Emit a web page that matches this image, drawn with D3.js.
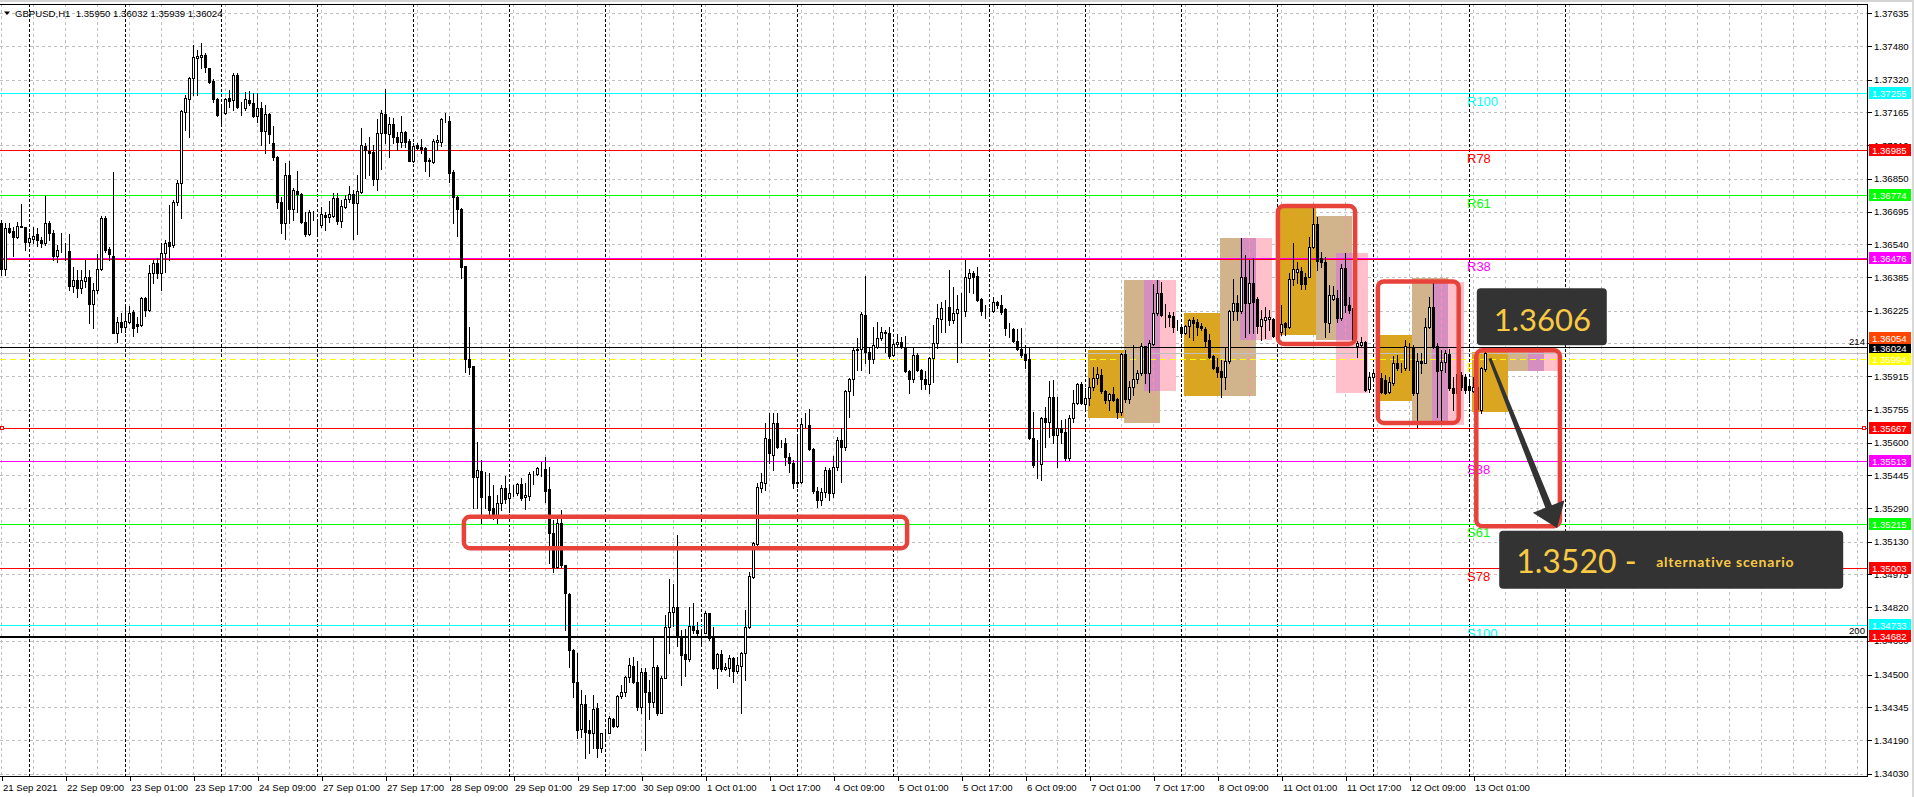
<!DOCTYPE html>
<html><head><meta charset="utf-8">
<script src="https://cdn.jsdelivr.net/npm/d3@7"></script>
<style>
html,body{margin:0;padding:0;background:#fff;overflow:hidden}
svg{display:block}
</style></head><body>
<script>
// ---------------- DATA ----------------
const headerText = "GBPUSD,H1  1.35950 1.36032 1.35939 1.36024";

const open = [
1.36639,1.36421,1.36616,1.36603,1.36573,1.36627,1.36620,1.36549,1.36565,1.36589,
1.36560,1.36548,1.36643,1.36595,1.36486,1.36508,1.36508,1.36508,1.36344,1.36371,
1.36331,1.36368,1.36387,1.36257,1.36323,1.36421,1.36663,1.36518,1.36486,1.36121,
1.36170,1.36150,1.36173,1.36218,1.36162,1.36159,1.36283,1.36229,1.36402,1.36450,
1.36406,1.36500,1.36551,1.36537,1.36739,1.36829,1.37169,1.37227,1.37327,1.37421,
1.37429,1.37437,1.37377,1.37314,1.37229,1.37161,1.37161,1.37232,1.37224,1.37342,
1.37189,1.37184,1.37224,1.37211,1.37148,1.37184,1.37077,1.37158,1.37022,1.36955,
1.36742,1.36643,1.36868,1.36707,1.36793,1.36778,1.36647,1.36589,1.36692,1.36629,
1.36629,1.36679,1.36671,1.36676,1.36758,1.36652,1.36718,1.36753,1.36777,1.36734,
1.36790,1.37008,1.36984,1.36979,1.36850,1.37066,1.37158,1.37063,1.37110,1.37047,
1.37023,1.37071,1.37030,1.36936,1.37009,1.37000,1.36995,1.36940,1.36932,1.37027,
1.37027,1.37126,1.37126,1.36884,1.36766,1.36706,1.36437,1.35995,1.35963,1.35439,
1.35467,1.35344,1.35347,1.35288,1.35257,1.35312,1.35383,1.35336,1.35360,1.35360,
1.35402,1.35340,1.35347,1.35451,1.35451,1.35475,1.35475,1.35380,1.35170,1.35009,
1.35217,1.35020,1.34883,1.34617,1.34467,1.34241,1.34359,1.34235,1.34222,1.34341,
1.34151,1.34225,1.34225,1.34290,1.34254,1.34399,1.34416,1.34487,1.34541,1.34467,
1.34345,1.34514,1.34415,1.34372,1.34538,1.34320,1.34483,1.34724,1.34796,1.34819,
1.34680,1.34598,1.34573,1.34728,1.34709,1.34699,1.34699,1.34791,1.34675,1.34530,
1.34596,1.34525,1.34530,1.34577,1.34519,1.34541,1.34601,1.34724,1.34962,1.35120,
1.35383,1.35410,1.35616,1.35540,1.35691,1.35597,1.35597,1.35530,1.35505,1.35407,
1.35415,1.35687,1.35684,1.35568,1.35370,1.35328,1.35367,1.35470,1.35360,1.35483,
1.35612,1.35581,1.35842,1.35900,1.36039,1.36042,1.36205,1.36031,1.35995,1.36055,
1.36094,1.36126,1.36118,1.36014,1.36065,1.36075,1.36052,1.35941,1.35903,1.36014,
1.35943,1.35902,1.35878,1.35999,1.36071,1.36184,1.36236,1.36241,1.36181,1.36213,
1.36225,1.36222,1.36382,1.36402,1.36390,1.36279,1.36225,1.36225,1.36222,1.36267,
1.36251,1.36232,1.36145,1.36137,1.36083,1.36042,1.36020,1.35995,1.35620,1.35497,
1.35499,1.35715,1.35699,1.35815,1.35636,1.35668,1.35652,1.35525,1.35715,1.35786,
1.35878,1.35783,1.35810,1.35865,1.35905,1.35920,1.35846,1.35802,1.35829,1.35808,
1.35747,1.36020,1.35807,1.35862,1.35900,1.35928,1.36058,1.35932,1.36067,1.36213,
1.36308,1.36205,1.36205,1.36200,1.36150,1.36150,1.36118,1.36153,1.36181,1.36172,
1.36153,1.36140,1.36086,1.36011,1.35957,1.35939,1.35913,1.35987,1.36224,1.36260,
1.36224,1.36387,1.36260,1.36358,1.36279,1.36153,1.36181,1.36184,1.36184,1.36118,
1.36126,1.36165,1.36146,1.36374,1.36410,1.36413,1.36387,1.36387,1.36526,1.36636,
1.36473,1.36458,1.36165,1.36279,1.36284,1.36189,1.36426,1.36252,1.36236,1.36058,
1.36063,1.36078,1.35853,1.35909,1.35920,1.35905,1.35897,1.35841,1.35884,1.35979,
1.35952,1.35952,1.36060,1.36055,1.35834,1.35988,1.35979,1.36146,1.36241,1.36058,
1.35944,1.35984,1.36020,1.35857,1.35834,1.35920,1.35913,1.35868,1.35846,1.35865,
1.35755,1.35950];

const high = [
1.36655,1.36639,1.36643,1.36624,1.36647,1.36731,1.36624,1.36592,1.36624,1.36616,
1.36576,1.36771,1.36652,1.36608,1.36537,1.36592,1.36545,1.36589,1.36434,1.36418,
1.36418,1.36466,1.36418,1.36355,1.36494,1.36674,1.36674,1.36529,1.36884,1.36197,
1.36213,1.36244,1.36248,1.36229,1.36194,1.36292,1.36292,1.36442,1.36466,1.36473,
1.36545,1.36560,1.36726,1.36750,1.36845,1.37177,1.37248,1.37335,1.37485,1.37461,
1.37493,1.37445,1.37377,1.37322,1.37232,1.37200,1.37232,1.37271,1.37354,1.37350,
1.37216,1.37263,1.37267,1.37256,1.37259,1.37216,1.37200,1.37161,1.37101,1.36959,
1.36766,1.36924,1.36935,1.36805,1.36889,1.36782,1.36695,1.36703,1.36698,1.36655,
1.36718,1.36695,1.36747,1.36785,1.36782,1.36750,1.36774,1.36816,1.36797,1.36868,
1.37090,1.37022,1.37050,1.37011,1.37132,1.37177,1.37275,1.37145,1.37137,1.37074,
1.37148,1.37079,1.37038,1.37022,1.37019,1.37038,1.37003,1.36947,1.37038,1.37058,
1.37137,1.37161,1.37148,1.36892,1.36769,1.36710,1.36437,1.36150,1.35963,1.35604,
1.35518,1.35462,1.35454,1.35399,1.35352,1.35399,1.35442,1.35399,1.35399,1.35407,
1.35431,1.35407,1.35462,1.35465,1.35486,1.35510,1.35533,1.35486,1.35233,1.35257,
1.35281,1.35020,1.34889,1.34620,1.34601,1.34427,1.34404,1.34285,1.34404,1.34364,
1.34222,1.34241,1.34304,1.34296,1.34404,1.34451,1.34491,1.34577,1.34582,1.34566,
1.34530,1.34530,1.34475,1.34680,1.34546,1.34491,1.34783,1.34952,1.34930,1.35162,
1.34712,1.34715,1.34819,1.34838,1.34747,1.34715,1.34799,1.34794,1.34724,1.34601,
1.34617,1.34554,1.34593,1.34582,1.34585,1.34609,1.34807,1.34988,1.35130,1.35410,
1.35454,1.35691,1.35739,1.35739,1.35739,1.35612,1.35620,1.35549,1.35518,1.35628,
1.35715,1.35742,1.35758,1.35573,1.35391,1.35383,1.35486,1.35478,1.35537,1.35628,
1.35668,1.35849,1.35905,1.36055,1.36094,1.36221,1.36390,1.36055,1.36150,1.36173,
1.36150,1.36134,1.36146,1.36078,1.36115,1.36102,1.36105,1.35944,1.36055,1.36023,
1.35947,1.35941,1.36004,1.36157,1.36257,1.36268,1.36276,1.36418,1.36339,1.36300,
1.36308,1.36466,1.36421,1.36413,1.36434,1.36284,1.36251,1.36236,1.36292,1.36271,
1.36300,1.36236,1.36165,1.36142,1.36137,1.36142,1.36063,1.36055,1.35747,1.35612,
1.35723,1.35770,1.35894,1.35897,1.35818,1.35707,1.35710,1.35731,1.35849,1.35884,
1.35889,1.35857,1.35905,1.35960,1.35960,1.35947,1.35849,1.35834,1.35865,1.35810,
1.36026,1.36039,1.35894,1.36063,1.35944,1.36074,1.36058,1.36086,1.36352,1.36371,
1.36363,1.36257,1.36221,1.36221,1.36181,1.36153,1.36157,1.36184,1.36194,1.36184,
1.36169,1.36150,1.36115,1.36015,1.35999,1.35992,1.36047,1.36229,1.36374,1.36300,
1.36568,1.36489,1.36466,1.36473,1.36292,1.36229,1.36244,1.36229,1.36189,1.36165,
1.36252,1.36170,1.36402,1.36548,1.36458,1.36434,1.36402,1.36576,1.36710,1.36671,
1.36505,1.36481,1.36347,1.36342,1.36323,1.36447,1.36497,1.36292,1.36241,1.36083,
1.36102,1.36083,1.35936,1.35944,1.35944,1.35928,1.35920,1.35913,1.36011,1.36015,
1.35976,1.36086,1.36071,1.36063,1.36023,1.36026,1.36189,1.36289,1.36358,1.36071,
1.36039,1.36039,1.36042,1.35913,1.35960,1.35936,1.35925,1.35897,1.35913,1.35881,
1.35957,1.36032];

const low = [
1.36394,1.36394,1.36592,1.36486,1.36568,1.36620,1.36513,1.36532,1.36545,1.36532,
1.36526,1.36537,1.36560,1.36466,1.36458,1.36505,1.36466,1.36323,1.36315,1.36292,
1.36308,1.36339,1.36165,1.36142,1.36308,1.36418,1.36505,1.36466,1.36118,1.36078,
1.36126,1.36126,1.36165,1.36105,1.36126,1.36153,1.36200,1.36225,1.36358,1.36379,
1.36323,1.36410,1.36466,1.36529,1.36726,1.36666,1.37082,1.37047,1.37248,1.37248,
1.37374,1.37358,1.37303,1.37216,1.37148,1.37117,1.37158,1.37192,1.37177,1.37184,
1.37153,1.37177,1.37200,1.37145,1.37121,1.37011,1.36971,1.37019,1.36940,1.36710,
1.36592,1.36564,1.36639,1.36655,1.36695,1.36643,1.36579,1.36584,1.36655,1.36584,
1.36624,1.36608,1.36647,1.36671,1.36636,1.36624,1.36710,1.36742,1.36564,1.36589,
1.36782,1.36856,1.36868,1.36821,1.36797,1.36897,1.37019,1.36952,1.37022,1.36987,
1.37003,1.37003,1.36936,1.36932,1.36992,1.36971,1.36889,1.36864,1.36927,1.36987,
1.37006,1.37121,1.36837,1.36639,1.36581,1.36379,1.35936,1.35925,1.35292,1.35292,
1.35217,1.35288,1.35249,1.35236,1.35217,1.35281,1.35312,1.35273,1.35347,1.35352,
1.35328,1.35284,1.35328,1.35404,1.35447,1.35442,1.35320,1.35031,1.34984,1.35004,
1.35012,1.34709,1.34535,1.34393,1.34198,1.34206,1.34103,1.34130,1.34151,1.34108,
1.34135,1.34198,1.34222,1.34250,1.34250,1.34388,1.34396,1.34467,1.34459,1.34333,
1.34320,1.34140,1.34288,1.34348,1.34309,1.34317,1.34483,1.34604,1.34728,1.34636,
1.34451,1.34491,1.34566,1.34696,1.34683,1.34636,1.34696,1.34664,1.34525,1.34435,
1.34519,1.34522,1.34491,1.34467,1.34506,1.34320,1.34475,1.34720,1.34957,1.35116,
1.35367,1.35375,1.35502,1.35470,1.35573,1.35581,1.35494,1.35462,1.35383,1.35391,
1.35410,1.35676,1.35565,1.35360,1.35296,1.35304,1.35344,1.35328,1.35344,1.35470,
1.35415,1.35565,1.35723,1.35826,1.35944,1.35944,1.35976,1.35932,1.35976,1.36047,
1.36086,1.36031,1.35999,1.36011,1.36058,1.36047,1.35935,1.35834,1.35889,1.35938,
1.35853,1.35853,1.35837,1.35889,1.36047,1.36126,1.36126,1.36157,1.36165,1.35984,
1.36078,1.36200,1.36315,1.36308,1.36273,1.36205,1.36189,1.36213,1.36219,1.36236,
1.36210,1.36110,1.36099,1.36078,1.36039,1.36007,1.35955,1.35616,1.35486,1.35431,
1.35423,1.35581,1.35628,1.35597,1.35486,1.35597,1.35518,1.35518,1.35699,1.35783,
1.35783,1.35762,1.35778,1.35849,1.35878,1.35834,1.35789,1.35755,1.35799,1.35715,
1.35731,1.35794,1.35789,1.35826,1.35881,1.35920,1.35881,1.35841,1.36063,1.36205,
1.36200,1.36150,1.36153,1.36126,1.36134,1.36102,1.36115,1.36102,1.36086,1.36110,
1.36134,1.36055,1.35999,1.35947,1.35913,1.35818,1.35853,1.35976,1.36181,1.36181,
1.36216,1.36102,1.36121,1.36118,1.36118,1.36086,1.36094,1.36134,1.36102,1.36102,
1.36110,1.36110,1.36142,1.36347,1.36358,1.36327,1.36327,1.36383,1.36521,1.36418,
1.36431,1.36102,1.36126,1.36276,1.36173,1.36181,1.36221,1.36213,1.36083,1.36004,
1.36055,1.35846,1.35841,1.35905,1.35897,1.35834,1.35830,1.35834,1.35873,1.35944,
1.35936,1.35944,1.35944,1.35826,1.35672,1.35928,1.35976,1.36142,1.36047,1.35723,
1.35699,1.35936,1.35849,1.35755,1.35826,1.35849,1.35834,1.35794,1.35841,1.35747,
1.35742,1.35939];

const close = [
1.36421,1.36616,1.36600,1.36573,1.36627,1.36620,1.36551,1.36568,1.36581,1.36560,
1.36548,1.36639,1.36592,1.36486,1.36513,1.36508,1.36508,1.36344,1.36371,1.36331,
1.36371,1.36387,1.36255,1.36323,1.36421,1.36663,1.36513,1.36494,1.36121,1.36170,
1.36150,1.36176,1.36213,1.36145,1.36153,1.36284,1.36229,1.36402,1.36450,1.36402,
1.36500,1.36545,1.36532,1.36742,1.36832,1.37172,1.37232,1.37327,1.37426,1.37433,
1.37437,1.37382,1.37308,1.37229,1.37153,1.37161,1.37229,1.37221,1.37342,1.37189,
1.37189,1.37227,1.37208,1.37148,1.37184,1.37079,1.37158,1.37063,1.36952,1.36742,
1.36643,1.36868,1.36707,1.36797,1.36778,1.36647,1.36589,1.36695,1.36692,1.36629,
1.36684,1.36668,1.36684,1.36758,1.36652,1.36722,1.36753,1.36777,1.36737,1.36793,
1.37011,1.36987,1.36974,1.36850,1.37069,1.37161,1.37066,1.37110,1.37047,1.37023,
1.37071,1.37023,1.36936,1.37006,1.36995,1.36992,1.36936,1.36933,1.37030,1.37034,
1.37132,1.37126,1.36880,1.36763,1.36706,1.36434,1.35995,1.35960,1.35439,1.35470,
1.35344,1.35344,1.35281,1.35257,1.35312,1.35383,1.35331,1.35360,1.35360,1.35402,
1.35336,1.35352,1.35450,1.35451,1.35478,1.35475,1.35372,1.35170,1.35009,1.35217,
1.35020,1.34886,1.34617,1.34467,1.34235,1.34359,1.34230,1.34222,1.34336,1.34151,
1.34222,1.34225,1.34293,1.34254,1.34399,1.34416,1.34487,1.34543,1.34467,1.34348,
1.34514,1.34415,1.34372,1.34538,1.34320,1.34483,1.34724,1.34796,1.34819,1.34680,
1.34593,1.34573,1.34728,1.34709,1.34696,1.34699,1.34791,1.34672,1.34530,1.34596,
1.34525,1.34535,1.34577,1.34519,1.34543,1.34601,1.34724,1.34965,1.35123,1.35388,
1.35412,1.35620,1.35549,1.35691,1.35581,1.35597,1.35533,1.35505,1.35407,1.35415,
1.35687,1.35687,1.35568,1.35370,1.35328,1.35367,1.35470,1.35360,1.35486,1.35612,
1.35581,1.35843,1.35900,1.36039,1.36045,1.36210,1.36031,1.35995,1.36063,1.36094,
1.36126,1.36118,1.36011,1.36067,1.36075,1.36052,1.35938,1.35903,1.36014,1.35943,
1.35902,1.35878,1.35999,1.36071,1.36189,1.36236,1.36236,1.36181,1.36213,1.36233,
1.36225,1.36383,1.36402,1.36383,1.36276,1.36225,1.36225,1.36225,1.36267,1.36251,
1.36221,1.36142,1.36145,1.36083,1.36042,1.36015,1.35992,1.35620,1.35494,1.35497,
1.35715,1.35699,1.35815,1.35636,1.35668,1.35652,1.35525,1.35715,1.35786,1.35878,
1.35786,1.35810,1.35865,1.35905,1.35924,1.35846,1.35802,1.35829,1.35802,1.35747,
1.36020,1.35807,1.35862,1.35900,1.35928,1.36058,1.35932,1.36074,1.36213,1.36308,
1.36205,1.36205,1.36194,1.36150,1.36150,1.36118,1.36153,1.36180,1.36169,1.36150,
1.36142,1.36083,1.36007,1.35952,1.35936,1.35913,1.35987,1.36224,1.36260,1.36224,
1.36387,1.36260,1.36358,1.36268,1.36153,1.36184,1.36197,1.36194,1.36105,1.36118,
1.36162,1.36146,1.36374,1.36421,1.36421,1.36352,1.36352,1.36526,1.36636,1.36462,
1.36458,1.36173,1.36300,1.36300,1.36189,1.36426,1.36252,1.36229,1.36086,1.36074,
1.36078,1.35849,1.35909,1.35932,1.35920,1.35841,1.35837,1.35889,1.35979,1.35952,
1.35952,1.36058,1.36060,1.35834,1.35988,1.35976,1.36146,1.36241,1.36058,1.35941,
1.35984,1.36026,1.35857,1.35834,1.35925,1.35865,1.35849,1.35849,1.35865,1.35758,
1.35952,1.36024];

// time axis (bar index of each label, 1 bar = 1 hour, weekends skipped)
const timeTickBars = [0,16,32,48,64,80,96,112,128,144,160,176,192,208,224,240,256,272,288,304,320,336,352,368];
const timeTickLabels = ["21 Sep 2021","22 Sep 09:00","23 Sep 01:00","23 Sep 17:00","24 Sep 09:00","27 Sep 01:00","27 Sep 17:00","28 Sep 09:00","29 Sep 01:00","29 Sep 17:00","30 Sep 09:00","1 Oct 01:00","1 Oct 17:00","4 Oct 09:00","5 Oct 01:00","5 Oct 17:00","6 Oct 09:00","7 Oct 01:00","7 Oct 17:00","8 Oct 09:00","11 Oct 01:00","11 Oct 17:00","12 Oct 09:00","13 Oct 01:00"];
const dayStartBars = [7,31,55,79,103,127,151,175,199,223,247,271,295,319,343,367,391];
const priceTicks = ["1.37635","1.37480","1.37320","1.37165","1.37010","1.36850","1.36695","1.36540","1.36385","1.36225","1.36070","1.35915","1.35755","1.35600","1.35445","1.35290","1.35130","1.34975","1.34820","1.34660","1.34500","1.34345","1.34190","1.34030"];

// pivot levels: [price, name, colour]
const pivotPrices = [1.37255,1.36985,1.36774,1.36476,1.35513,1.35215,1.35003,1.34733];
const pivotNames  = ["R100","R78","R61","R38","S38","S61","S78","S100"];
const pivotColors = ["#00ffff","#ff0000","#00ff00","#ff00ff","#ff00ff","#00ff00","#ff0000","#00ffff"];

// other horizontal lines
const extraLines = [
  {price:1.36469, color:"#ff0000"},
  {price:1.35667, color:"#ff0000"},
  {price:1.36024, color:"#c0c0c0"},
  {price:1.36054, color:"#000000"},
  {price:1.34682, color:"#000000", wide:true},
  {price:1.35994, color:"#ffff00", dash:true}
];
const priceTags = [
  {price:1.37255, bg:"#00ffff"},{price:1.36985, bg:"#ff0000"},{price:1.36774, bg:"#00ff00"},
  {price:1.36476, bg:"#ff00ff"},{price:1.36024, bg:"#000000"},{price:1.36054, bg:"#ff4500"},
  {price:1.35994, bg:"#ffff00"},{price:1.35667, bg:"#ff0000"},{price:1.35513, bg:"#ff00ff"},
  {price:1.35215, bg:"#00ff00"},{price:1.35003, bg:"#ff0000"},{price:1.34733, bg:"#00ffff"},
  {price:1.34682, bg:"#ff0000"}
];

// session boxes: [startBar, endBar, top, bottom]
const asiaBoxes   = [[272,281,1.36039,1.35718],[296,305,1.36213,1.35821],[320,329,1.36715,1.36110],[344,353,1.36110,1.35798],[368,377,1.36031,1.35746]];
const europeBoxes = [[281,290,1.36371,1.35694],[305,314,1.36571,1.35821],[329,338,1.36674,1.36086],[353,362,1.36380,1.35693],[377,386,1.36031,1.35941]];
const usBoxes     = [[286,294,1.36371,1.35846],[310,318,1.36571,1.36086],[334,342,1.36497,1.35836],[358,366,1.36363,1.35683],[382,390,1.36031,1.35941]];
const sessionMarks = [288,312,336,360];

// annotation frames: [startBar, endBar, top, bottom]
const frames = [[319.1,338.4,1.36721,1.36067],[344.1,364.3,1.36364,1.35693],[368.7,389.6,1.36037,1.35203],[115.6,226.4,1.35248,1.35099]];
const arrowFrom = [372.1, 1.35999];
const arrowTo   = [388.9, 1.35195];
const callout1 = {bar:369.2, price:1.36331, text:"1.3606"};
const callout2 = {bar:374.8, price:1.35182, text:"1.3520 -", note:"alternative scenario"};

// ---------------- DRAW ----------------
const W = 1914, H = 797, plotR = 1867, plotT = 4, plotB = 776;
const FONT = "'Liberation Sans', Arial, sans-serif";
const svg = d3.select("body").append("svg").attr("width",W).attr("height",H)
  .style("font-family",FONT);
svg.append("rect").attr("width",W).attr("height",H).attr("fill","#fff");

const x = d3.scaleLinear().domain([0,1]).range([1.5,5.5]);          // 4 px per bar
const y = d3.scaleLinear().domain([1.34030,1.37635]).range([773.7,13.3]);
const py = p => Math.round(y(p)) + 0.5;
const nBars = Math.floor((plotR - 1.5)/4);

const plot = svg.append("g");
const clipId = "clipPlot";
svg.append("clipPath").attr("id",clipId).append("rect").attr("x",0).attr("y",plotT).attr("width",plotR).attr("height",plotB-plotT);
plot.attr("clip-path",`url(#${clipId})`);

// grid
const grid = plot.append("g").attr("shape-rendering","crispEdges");
grid.selectAll("line.h").data(priceTicks).join("line")
  .attr("x1",0).attr("x2",plotR).attr("y1",d=>py(+d)).attr("y2",d=>py(+d))
  .attr("stroke","#c0c0c0").attr("stroke-dasharray","3,3");
grid.selectAll("line.v").data(d3.range(0,nBars+1,8)).join("line")
  .attr("x1",d=>x(d)).attr("x2",d=>x(d)).attr("y1",plotT).attr("y2",plotB)
  .attr("stroke","#c0c0c0").attr("stroke-dasharray","3,3");
grid.selectAll("line.sep").data(dayStartBars).join("line")
  .attr("x1",d=>x(d)).attr("x2",d=>x(d)).attr("y1",plotT).attr("y2",plotB)
  .attr("stroke","#000").attr("stroke-dasharray","3,2");

// header
svg.append("path").attr("d","M4,11.5 L10,11.5 L7,15 Z").attr("fill","#000");
svg.append("text").attr("x",15).attr("y",16.5).attr("font-size",9.6).attr("fill","#000")
  .style("white-space","pre").text(headerText);

// pivot tag texts (under objects)
const tags = plot.append("g").attr("font-size",13);
tags.selectAll("text").data(pivotPrices).join("text")
  .attr("x",1467).attr("y",d=>py(d)+12.5).attr("fill",(d,i)=>pivotColors[i]).text((d,i)=>pivotNames[i]);
tags.append("text").attr("x",1467).attr("y",py(1.35994)+12.5).attr("fill","#ffff00").text("Pivot");

// session boxes
const bx = b => x(b) - 1.5;
const boxes = plot.append("g").attr("shape-rendering","crispEdges");
function drawBoxes(data, color){
  boxes.append("g").selectAll("rect").data(data).join("rect")
    .attr("x",d=>bx(d[0])).attr("width",d=>bx(d[1])-bx(d[0]))
    .attr("y",d=>Math.round(y(d[2]))).attr("height",d=>Math.round(y(d[3]))-Math.round(y(d[2])))
    .attr("fill",color);
}
drawBoxes(asiaBoxes,"#daa520");
drawBoxes(europeBoxes,"#d2b48c");
drawBoxes(usBoxes,"#ffc0cb");
const overlaps = europeBoxes.map((e,i)=>{
  const u = usBoxes[i];
  return [Math.max(e[0],u[0]),Math.min(e[1],u[1]),Math.min(e[2],u[2]),Math.max(e[3],u[3])];
});
drawBoxes(overlaps,"#d48ebf");
boxes.append("g").selectAll("line").data(sessionMarks).join("line")
  .attr("x1",d=>x(d)).attr("x2",d=>x(d))
  .attr("y1",(d,i)=>Math.round(y(europeBoxes[i][2]))).attr("y2",(d,i)=>Math.round(y(europeBoxes[i][3])))
  .attr("stroke","#ff8fb0").attr("stroke-dasharray","4,3");

// horizontal level lines
const lines = plot.append("g").attr("shape-rendering","crispEdges");
lines.selectAll("line.p").data(pivotPrices).join("line")
  .attr("x1",0).attr("x2",plotR).attr("y1",d=>py(d)).attr("y2",d=>py(d))
  .attr("stroke",(d,i)=>pivotColors[i]);
lines.selectAll("line.e").data(extraLines).join("line")
  .attr("x1",0).attr("x2",plotR).attr("y1",d=>py(d.price)).attr("y2",d=>py(d.price))
  .attr("stroke",d=>d.color).attr("stroke-width",d=>d.wide?2:1)
  .attr("stroke-dasharray",d=>d.dash?"6,4":null);
// line handles on 1.35667
lines.append("rect").attr("x",0.5).attr("y",py(1.35667)-2).attr("width",3).attr("height",3).attr("fill","#fff").attr("stroke","#ff0000");
lines.append("rect").attr("x",plotR-4.5).attr("y",py(1.35667)-2).attr("width",3).attr("height",3).attr("fill","#fff").attr("stroke","#ff0000");
lines.append("text").attr("x",plotR-2).attr("y",py(1.36054)-3).attr("text-anchor","end").attr("font-size",9.6).text("214");
lines.append("text").attr("x",plotR-2).attr("y",py(1.34682)-3).attr("text-anchor","end").attr("font-size",9.6).text("200");

// candles
const bars = close.map((c,i)=>({i,o:open[i],h:high[i],l:low[i],c}));
const cg = plot.append("g").attr("shape-rendering","crispEdges");
cg.selectAll("line").data(bars).join("line")
  .attr("x1",d=>x(d.i)).attr("x2",d=>x(d.i))
  .attr("y1",d=>Math.round(y(d.h))).attr("y2",d=>Math.round(y(d.l))+1)
  .attr("stroke","#000");
cg.selectAll("rect").data(bars).join("rect")
  .each(function(d){
    const r = d3.select(this);
    const top = Math.round(y(Math.max(d.o,d.c))), bot = Math.round(y(Math.min(d.o,d.c)));
    if (d.c >= d.o) {
      r.attr("x",x(d.i)-1).attr("y",top+0.5).attr("width",2).attr("height",Math.max(bot-top,0))
       .attr("fill","#fff").attr("stroke","#000");
    } else {
      r.attr("x",x(d.i)-1.5).attr("y",top).attr("width",3).attr("height",Math.max(bot-top,1)+1)
       .attr("fill","#000");
    }
  });

// annotation frames
const ann = svg.append("g");
ann.selectAll("rect").data(frames).join("rect")
  .attr("x",d=>x(d[0])).attr("width",d=>x(d[1])-x(d[0]))
  .attr("y",d=>y(d[2])).attr("height",d=>y(d[3])-y(d[2]))
  .attr("rx",6).attr("fill","none").attr("stroke","#e8433a").attr("stroke-width",4.5);

// arrow
(function(){
  const sx=x(arrowFrom[0]), sy=y(arrowFrom[1]), tx=x(arrowTo[0]), ty=y(arrowTo[1]);
  const dx=tx-sx, dy=ty-sy, L=Math.hypot(dx,dy), ux=dx/L, uy=dy/L, nx=-uy, ny=ux;
  const hl=23, hw=17, bx0=tx-ux*hl, by0=ty-uy*hl;
  const pts=[[sx+nx*1.5,sy+ny*1.5],[bx0+nx*3.5,by0+ny*3.5],[bx0+nx*hw,by0+ny*hw],[tx,ty],
             [bx0-nx*hw,by0-ny*hw],[bx0-nx*3.5,by0-ny*3.5],[sx-nx*1.5,sy-ny*1.5]];
  ann.append("path").attr("d","M"+pts.map(p=>p.join(",")).join("L")+"Z").attr("fill","#333333");
})();

// callouts
const c1x = x(callout1.bar)-1.5, c1y = y(callout1.price);
ann.append("rect").attr("x",c1x).attr("y",c1y).attr("width",130).attr("height",57).attr("rx",4).attr("fill","#333333");
ann.append("text").attr("x",c1x+17).attr("y",c1y+42.5).attr("font-family","Lato, 'Open Sans', sans-serif")
  .attr("font-size",31).attr("fill","#f8c944").text(callout1.text);
const c2x = x(callout2.bar)-1.5, c2y = y(callout2.price);
ann.append("rect").attr("x",c2x).attr("y",c2y).attr("width",344).attr("height",58).attr("rx",4).attr("fill","#333333");
ann.append("text").attr("x",c2x+17).attr("y",c2y+42).attr("font-family","Lato, 'Open Sans', sans-serif")
  .attr("font-size",32).attr("fill","#f8c944").style("white-space","pre").text(callout2.text);
ann.append("text").attr("x",c2x+157).attr("y",c2y+36).attr("font-family","Lato, 'Open Sans', sans-serif")
  .attr("font-size",14).attr("font-weight","bold").attr("letter-spacing",0.8).attr("fill","#f8c944").text(callout2.note);

// frame
const fr = svg.append("g").attr("shape-rendering","crispEdges");
fr.append("rect").attr("x",0).attr("y",0).attr("width",W).attr("height",2).attr("fill","#d4d4d4");
fr.append("line").attr("x1",0).attr("x2",plotR).attr("y1",plotT+0.5).attr("y2",plotT+0.5).attr("stroke","#000");
fr.append("line").attr("x1",plotR+0.5).attr("x2",plotR+0.5).attr("y1",plotT).attr("y2",plotB+1).attr("stroke","#000");
fr.append("line").attr("x1",0).attr("x2",plotR+1).attr("y1",plotB+0.5).attr("y2",plotB+0.5).attr("stroke","#000");
fr.append("rect").attr("x",1912).attr("y",0).attr("width",2).attr("height",H).attr("fill","#d8d8d8");

// right price axis
const ya = svg.append("g").attr("transform",`translate(${plotR+1},0)`)
  .call(d3.axisRight(y).tickValues(priceTicks.map(Number)).tickFormat((d,i)=>priceTicks[i]).tickSize(4).tickPadding(2).tickSizeOuter(0));
ya.select(".domain").remove();
ya.selectAll("text").attr("font-family",FONT).attr("font-size",9.6).attr("fill","#000");
ya.selectAll("line").attr("stroke","#000").attr("shape-rendering","crispEdges");

// bottom time axis
const xa = svg.append("g").attr("transform",`translate(0,${plotB+1})`)
  .call(d3.axisBottom(x).tickValues(timeTickBars).tickFormat((d,i)=>timeTickLabels[i]).tickSize(4).tickPadding(3).tickSizeOuter(0));
xa.select(".domain").remove();
xa.selectAll("text").attr("font-family",FONT).attr("font-size",9.6).attr("fill","#000").attr("text-anchor","start").attr("x",1);
xa.selectAll("line").attr("stroke","#000").attr("shape-rendering","crispEdges");

// price tags on the right
const tagNudge = {"1.36054":-9, "1.36024":-5};
const pt = svg.append("g").attr("shape-rendering","crispEdges");
priceTags.forEach(t=>{
  const key = t.price.toFixed(5);
  const cy = Math.round(y(t.price)) + (tagNudge[key]||0);
  pt.append("rect").attr("x",1869).attr("y",cy-6).attr("width",42).attr("height",12).attr("fill",t.bg);
  pt.append("text").attr("x",1872).attr("y",cy+3.5).attr("font-size",9.6).attr("fill","#fff")
    .attr("shape-rendering",null).text(key);
});
// draw order: bid (black) first, then orange & yellow on top
</script>
</body></html>
